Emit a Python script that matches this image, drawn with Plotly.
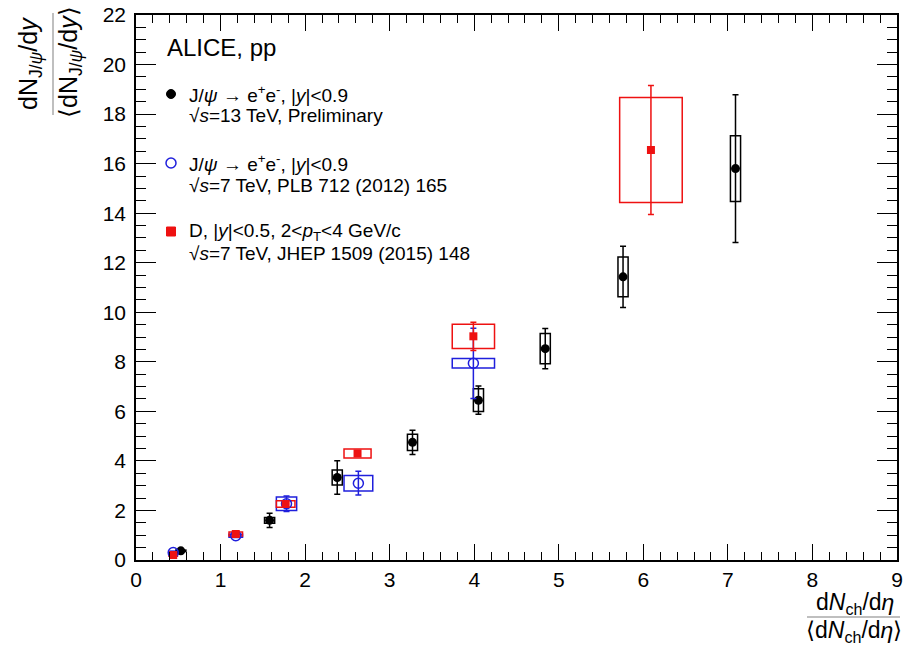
import plotly.graph_objects as go

# J/psi -> e+e-, |y|<0.9, sqrt(s)=13 TeV (preliminary)
x_13 = [0.53, 1.58, 2.38, 3.27, 4.05, 4.84, 5.76, 7.09]
y_13 = [0.37, 1.60, 3.33, 4.75, 6.45, 8.53, 11.43, 15.80]
stat_13 = [0.05, 0.29, 0.68, 0.49, 0.57, 0.81, 1.24, 2.98]
syst_13 = [0.03, 0.12, 0.30, 0.33, 0.46, 0.61, 0.80, 1.33]
xw_13 = [0.06, 0.06, 0.06, 0.06, 0.06, 0.06, 0.06, 0.06]

# J/psi -> e+e-, |y|<0.9, sqrt(s)=7 TeV, PLB 712 (2012) 165
x_7 = [0.44, 1.18, 1.78, 2.63, 3.99]
y_7 = [0.30, 0.98, 2.27, 3.10, 7.94]
stat_7 = [0.04, 0.07, 0.31, 0.48, 1.42]
syst_7 = [0.05, 0.06, 0.27, 0.31, 0.19]
xw_7 = [0.05, 0.08, 0.12, 0.17, 0.25]

# D mesons, |y|<0.5, 2<pT<4 GeV/c, sqrt(s)=7 TeV, JHEP 1509 (2015) 148
x_d = [0.44, 1.18, 1.77, 2.62, 3.99, 6.09]
y_d = [0.20, 1.05, 2.26, 4.30, 9.03, 16.55]
stat_d = [0.04, 0.06, 0.12, 0.10, 0.57, 2.60]
syst_d = [0.05, 0.08, 0.13, 0.18, 0.49, 2.12]
xw_d = [0.05, 0.08, 0.11, 0.16, 0.25, 0.37]

x_ticks = [0, 1, 2, 3, 4, 5, 6, 7, 8, 9]
y_ticks = [0, 2, 4, 6, 8, 10, 12, 14, 16, 18, 20, 22]

legend_lines = [
    ("J/<i>ψ</i> → e<sup>+</sup>e<sup>-</sup>, |<i>y</i>|<0.9", "√<i>s</i>=13 TeV, Preliminary"),
    ("J/<i>ψ</i> → e<sup>+</sup>e<sup>-</sup>, |<i>y</i>|<0.9", "√<i>s</i>=7 TeV, PLB 712 (2012) 165"),
    ("D, |<i>y</i>|<0.5, 2<<i>p</i><sub>T</sub><4 GeV/c", "√<i>s</i>=7 TeV, JHEP 1509 (2015) 148"),
]

FONT = "Liberation Sans, Arial, Helvetica, sans-serif"
BLACK, BLUE, RED = "#000000", "#1f1fdc", "#ee1111"

W, H = 914, 646
ML, MR, MT, MB = 136, 17, 15, 86
PW, PH = W - ML - MR, H - MT - MB


def px(x):
    """pixel column -> paper x"""
    return (x - ML) / PW


def py(y):
    """pixel row -> paper y"""
    return (H - MB - y) / PH


series = [
    (x_13, y_13, stat_13, syst_13, xw_13, BLACK, dict(symbol="circle", size=9, color=BLACK)),
    (x_7, y_7, stat_7, syst_7, xw_7, BLUE,
     dict(symbol="circle-open", size=10, color=BLUE, line=dict(width=1.5, color=BLUE))),
    (x_d, y_d, stat_d, syst_d, xw_d, RED, dict(symbol="square", size=8, color=RED)),
]

fig = go.Figure()
shapes = []
for i, (xs, ys, st, sy, xw, col, mk) in enumerate(series):
    # systematic-uncertainty boxes
    for xv, yv, s, w in zip(xs, ys, sy, xw):
        shapes.append(dict(type="rect", xref="x", yref="y",
                           x0=xv - w, x1=xv + w, y0=yv - s, y1=yv + s,
                           line=dict(color=col, width=1.5), fillcolor="rgba(0,0,0,0)",
                           layer="below"))
    fig.add_trace(go.Scatter(
        x=xs, y=ys, mode="markers", marker=mk, showlegend=False,
        error_y=dict(type="data", array=st, visible=True, color=col, thickness=1.5, width=3),
    ))

# legend symbols
shapes += [
    dict(type="circle", xref="paper", yref="paper",
         x0=px(166.5), x1=px(175.5), y0=py(98.5), y1=py(89.5),
         fillcolor=BLACK, line=dict(color=BLACK, width=1)),
    dict(type="circle", xref="paper", yref="paper",
         x0=px(166), x1=px(176), y0=py(168), y1=py(158),
         fillcolor="rgba(0,0,0,0)", line=dict(color=BLUE, width=1.5)),
    dict(type="rect", xref="paper", yref="paper",
         x0=px(166.5), x1=px(175.5), y0=py(236), y1=py(227),
         fillcolor=RED, line=dict(color=RED, width=1)),
]

# fraction bars of the axis titles
shapes.append(dict(type="line", xref="paper", yref="paper",
                   x0=px(53), x1=px(53), y0=py(115), y1=py(13),
                   line=dict(color="#aaaaaa", width=1.5)))
shapes.append(dict(type="line", xref="paper", yref="paper",
                   x0=px(807), x1=px(900), y0=py(617), y1=py(617),
                   line=dict(color="#aaaaaa", width=1.5)))

title_font = dict(size=25, family=FONT, color="black")
xtitle_font = dict(size=23, family=FONT, color="black")
leg_font = dict(size=19, family=FONT, color="black")

annotations = [
    dict(text="dN<sub>J/<i>ψ</i></sub>/d<i>y</i>", xref="paper", yref="paper",
         x=px(30), y=py(64), xanchor="center", yanchor="middle",
         textangle=-90, showarrow=False, font=title_font),
    dict(text="⟨dN<sub>J/<i>ψ</i></sub>/d<i>y</i>⟩", xref="paper", yref="paper",
         x=px(70), y=py(62), xanchor="center", yanchor="middle",
         textangle=-90, showarrow=False, font=title_font),
    dict(text="d<i>N</i><sub>ch</sub>/d<i>η</i>", xref="paper", yref="paper",
         x=px(855), y=py(603), xanchor="center", yanchor="middle",
         showarrow=False, font=xtitle_font, borderpad=0),
    dict(text="⟨d<i>N</i><sub>ch</sub>/d<i>η</i>⟩", xref="paper", yref="paper",
         x=px(854), y=py(631), xanchor="center", yanchor="middle",
         showarrow=False, font=xtitle_font, borderpad=0),
    dict(text="ALICE, pp", xref="paper", yref="paper", x=px(165), y=py(47),
         xanchor="left", yanchor="middle", showarrow=False,
         font=dict(size=24, family=FONT, color="black")),
]

line_rows = [(94, 116), (163, 185), (232, 254)]
for (l1, l2), (r1, r2) in zip(legend_lines, line_rows):
    for txt, row in ((l1, r1), (l2, r2)):
        annotations.append(dict(text=txt, xref="paper", yref="paper",
                                x=px(187), y=py(row), xanchor="left", yanchor="middle",
                                showarrow=False, font=leg_font))

axis_common = dict(
    showline=True, linecolor="black", linewidth=1.5, mirror="ticks",
    ticks="inside", tickcolor="black", tickwidth=1.2,
    showgrid=False, zeroline=False, automargin=False,
    tickfont=dict(size=21, family=FONT, color="black"),
)

fig.update_layout(
    width=W, height=H,
    margin=dict(l=ML, r=MR, t=MT, b=MB),
    paper_bgcolor="white", plot_bgcolor="white",
    shapes=shapes, annotations=annotations,
    xaxis=dict(range=[0, 9], tickvals=x_ticks, ticklen=16,
               minor=dict(dtick=0.2, ticks="inside", ticklen=8, tickcolor="black", tickwidth=1.2),
               **axis_common),
    yaxis=dict(range=[0, 22], tickvals=y_ticks, ticklen=20, ticklabelstandoff=4,
               minor=dict(dtick=0.5, ticks="inside", ticklen=10, tickcolor="black", tickwidth=1.2),
               **axis_common),
    showlegend=False,
)

fig.write_html("out.html")
